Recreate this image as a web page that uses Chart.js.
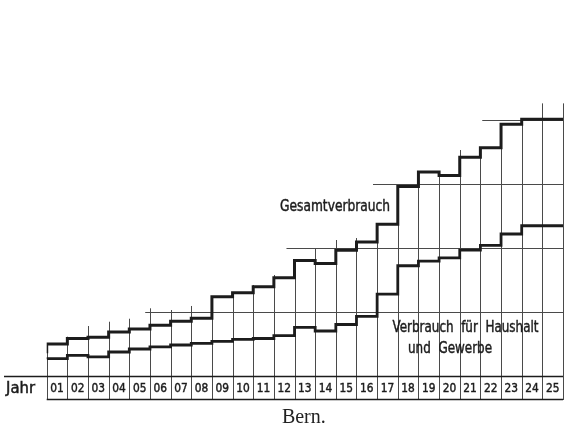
<!DOCTYPE html>
<html>
<head>
<meta charset="utf-8">
<script src="https://cdn.jsdelivr.net/npm/chart.js@4"></script>
<style>
  html, body { margin: 0; padding: 0; background: #fff; }
  canvas { display: block; }
</style>
</head>
<body>
<canvas id="bern-chart" width="569" height="429"></canvas>
<script>
// Jahre 1901-1925
const years = ['01', '02', '03', '04', '05', '06', '07', '08', '09', '10', '11', '12', '13',
    '14', '15', '16', '17', '18', '19', '20', '21', '22', '23', '24', '25'];

// Gesamtverbrauch (1 Einheit = 1/10 Rasterfeld)
const gesamt = [3.55, 5.0, 5.86, 6.05, 6.88, 7.34, 7.92, 8.55, 9.03, 12.39, 13.0, 13.94, 15.36,
    18.05, 17.58, 19.64, 20.94, 23.72, 29.61, 31.88, 31.33, 34.17, 35.67, 39.34, 40.11];

// Verbrauch für Haushalt und Gewerbe
const haushalt = [2.66, 2.73, 3.23, 3.0, 3.75, 4.22, 4.56, 4.84, 5.11, 5.42, 5.73, 5.86, 6.30,
    7.61, 7.03, 8.05, 9.33, 12.78, 17.23, 17.94, 18.47, 19.66, 20.42, 22.19, 23.48];

// Höhe der senkrechten Jahreslinien (26 Grenzen, links von 01 bis rechts von 25)
const boundaryTops = [4.38, 6.14, 7.81, 8.48, 8.95, 10.58, 10.31, 10.94, 11.8, 12.39, 14.22,
    15.78, 18.13, 19.84, 21.25, 21.56, 23.13, 24.84, 29.61, 31.88, 35.31, 35.31, 36.98, 39.34,
    42.6, 42.6];

// waagrechte Rasterlinien und wo sie beginnen (Position in Jahren)
const gridLevels = [10, 20, 30, 40];
const gridStarts = [4.27, 11.11, 15.3, 20.59];

const INK = '#1c1c1c';
const THIN = '#4a4a4a';
const HAND = '"DejaVu Sans Condensed", "Liberation Sans Narrow", "DejaVu Sans", sans-serif';

function stepData(values) {
    const pts = values.map((v, i) => ({ x: i - 0.5, y: v }));
    pts.push({ x: values.length - 0.5, y: values[values.length - 1] });
    return pts;
}

// Text auf eine bestimmte Breite bringen (Handschrift ist schmal), leicht nachgezogen
function drawFit(ctx, text, cx, cy, width, font) {
    ctx.save();
    ctx.font = font;
    const w = ctx.measureText(text).width;
    ctx.translate(cx, cy);
    ctx.scale(width / w, 1);
    ctx.textAlign = 'center';
    ctx.textBaseline = 'middle';
    ctx.fillText(text, 0, 0);
    ctx.lineWidth = 0.45;
    ctx.strokeStyle = ctx.fillStyle;
    ctx.strokeText(text, 0, 0);
    ctx.restore();
}

const framePlugin = {
    id: 'frame',
    beforeDatasetsDraw(chart) {
        const ctx = chart.ctx;
        const xs = chart.scales.x;
        const ys = chart.scales.y;
        const bottom = ys.getPixelForValue(0);
        const rowBottom = bottom + 23;
        const right = xs.getPixelForValue(years.length - 0.5);

        ctx.save();
        ctx.lineWidth = 1;
        ctx.strokeStyle = THIN;

        // Rasterlinien
        gridLevels.forEach((lv, i) => {
            const y = Math.round(ys.getPixelForValue(lv)) + 0.5;
            ctx.beginPath();
            ctx.moveTo(xs.getPixelForValue(gridStarts[i]), y);
            ctx.lineTo(right, y);
            ctx.stroke();
        });

        // senkrechte Linien
        boundaryTops.forEach((top, b) => {
            const x = Math.round(xs.getPixelForValue(b - 0.5)) + 0.5;
            ctx.beginPath();
            ctx.moveTo(x, ys.getPixelForValue(top));
            ctx.lineTo(x, rowBottom + 1);
            ctx.stroke();
        });

        // Grundlinie und Jahreszeile
        ctx.strokeStyle = INK;
        ctx.lineWidth = 1.3;
        ctx.beginPath();
        ctx.moveTo(4, Math.round(bottom) + 0.5);
        ctx.lineTo(right, Math.round(bottom) + 0.5);
        ctx.moveTo(xs.getPixelForValue(-0.5), Math.round(rowBottom) + 0.5);
        ctx.lineTo(right, Math.round(rowBottom) + 0.5);
        ctx.stroke();

        ctx.fillStyle = INK;
        const rowMid = bottom + 13;
        years.forEach((lab, i) => {
            drawFit(ctx, lab, xs.getPixelForValue(i), rowMid, 13.5, '13px ' + HAND);
        });
        drawFit(ctx, 'Jahr', 20.5, rowMid, 29, '15px ' + HAND);

        // Beschriftungen
        drawFit(ctx, 'Gesamtverbrauch', xs.getPixelForValue(13.46), ys.getPixelForValue(26.4),
            110, '16px ' + HAND);
        drawFit(ctx, 'Verbrauch  für  Haushalt', xs.getPixelForValue(19.78), ys.getPixelForValue(7.55),
            146, '16px ' + HAND);
        drawFit(ctx, 'und  Gewerbe', xs.getPixelForValue(19.03), ys.getPixelForValue(4.17),
            84, '16px ' + HAND);

        ctx.font = '20px "Liberation Serif", "DejaVu Serif", serif';
        ctx.textAlign = 'center';
        ctx.textBaseline = 'alphabetic';
        ctx.fillStyle = '#222';
        ctx.fillText('Bern.', xs.getPixelForValue(11.95), rowBottom + 24);
        ctx.restore();
    }
};

new Chart(document.getElementById('bern-chart').getContext('2d'), {
    type: 'line',
    data: {
        datasets: [{
            label: 'Gesamtverbrauch',
            data: stepData(gesamt),
            stepped: 'after',
            borderColor: INK,
            borderWidth: 3,
            pointRadius: 0,
            fill: false
        }, {
            label: 'Verbrauch für Haushalt und Gewerbe',
            data: stepData(haushalt),
            stepped: 'after',
            borderColor: INK,
            borderWidth: 2.8,
            pointRadius: 0,
            fill: false
        }]
    },
    options: {
        responsive: false,
        animation: false,
        devicePixelRatio: 1,
        layout: { padding: { left: 46.7, right: 6, top: 24, bottom: 53 } },
        plugins: {
            legend: { display: false },
            tooltip: { enabled: false }
        },
        scales: {
            x: { type: 'linear', min: -0.5, max: 24.5, display: false },
            y: { min: 0, max: 55, display: false }
        }
    },
    plugins: [framePlugin]
});
</script>
</body>
</html>
